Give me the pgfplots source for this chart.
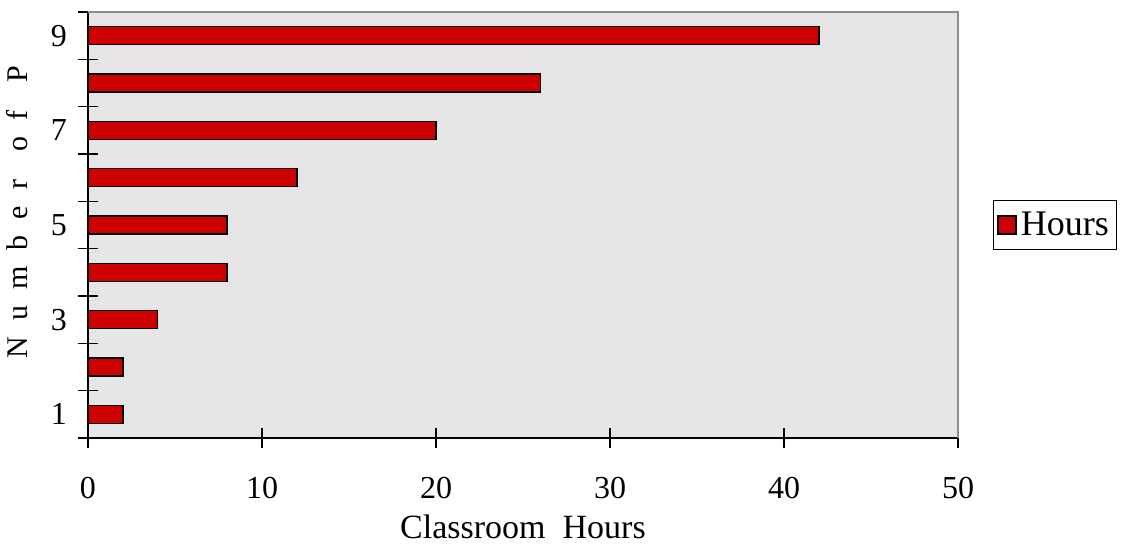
\documentclass[border=0pt]{standalone}
\usepackage{fontspec}
\setmainfont{Liberation Serif}
\usepackage{pgfplots}
\pgfplotsset{compat=1.18}
\definecolor{barred}{RGB}{204,0,0}
\begin{document}
\begin{tikzpicture}
\begin{axis}[name=ax,
 scale only axis, width=435pt, height=213pt,
 xmin=0, xmax=50, ymin=0.5, ymax=9.5,
 xbar, bar width=9pt,
 axis background/.style={fill=black!10},
 axis x line*=bottom, axis y line*=left,
 axis line style={-, black, line width=0.8pt},
 xtick={0,10,...,50},
 ytick={0.5,1.5,...,9.5}, yticklabels={},
 extra y ticks={1,3,5,7,9}, extra y tick labels={1,3,5,7,9},
 extra y tick style={major tick length=0pt},
 tick style={black, line width=0.6pt},
 tick align=center, major tick length=10pt,
 /pgf/number format/assume math mode=true,
 ticklabel style={font=\fontsize{16}{19}\selectfont},
 xticklabel style={yshift=-11pt},
 yticklabel style={xshift=-7pt},
 xlabel={Classroom\ \ Hours},
 xlabel style={font=\fontsize{17}{20}\selectfont, at={(axis description cs:0.5,0)}, anchor=center, yshift=-44.5pt},
 ylabel={N\hspace{8pt}u\hspace{8pt}m\hspace{8pt}b\hspace{8pt}e\hspace{8pt}r\hspace{14pt}o\hspace{8pt}f\hspace{14pt}P},
 ylabel style={font=\fontsize{15}{18}\selectfont, at={(axis description cs:-0.0816,0.53)}, anchor=center},
 legend style={at={(1.040,0.5)}, anchor=west, draw=black, line width=0.5pt,
   font=\fontsize{18}{21}\selectfont, inner xsep=2pt, inner ysep=3.5pt},
 legend image code/.code={\draw[fill=barred,draw=black,line width=0.8pt] (0pt,-4.5pt) rectangle (9pt,4.5pt);},
]
\addplot[fill=barred, draw=black, line width=0.8pt] coordinates {(2,1) (2,2) (4,3) (8,4) (8,5) (12,6) (20,7) (26,8) (42,9)};
\legend{Hours}
\end{axis}
\draw[black!45, line width=0.6pt] (ax.north west) -- (ax.north east) -- (ax.south east);
\pgfresetboundingbox
\path ([xshift=-44pt,yshift=-55pt]ax.south west) rectangle ([xshift=84.5pt,yshift=6pt]ax.north east);
\end{tikzpicture}
\end{document}
